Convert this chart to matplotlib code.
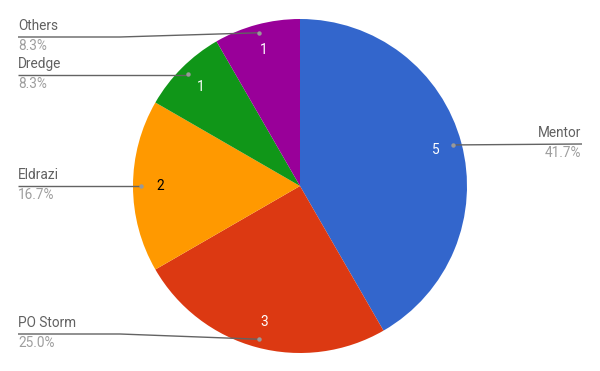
import numpy as np
import matplotlib
matplotlib.use("Agg")
import matplotlib.pyplot as plt

# Deck archetype counts
labels = ["Mentor", "PO Storm", "Eldrazi", "Dredge", "Others"]
counts = [5, 3, 2, 1, 1]
colors = ["#3366CC", "#DC3912", "#FF9900", "#109618", "#990099"]
value_colors = ["white", "white", "black", "white", "white"]

W, H = 600, 371
plt.rcParams["font.family"] = ["Roboto", "DejaVu Sans"]

fig = plt.figure(figsize=(W / 100, H / 100), dpi=100)
ax = fig.add_axes([0, 0, 1, 1])

cx, cy, r = 300, H - 186, 167

wedges, _ = ax.pie(counts, colors=colors, startangle=90, counterclock=False,
                   center=(cx, cy), radius=r, frame=True,
                   wedgeprops=dict(linewidth=0))
ax.set_xlim(0, W)
ax.set_ylim(0, H)
ax.set_aspect("equal")
ax.axis("off")

total = sum(counts)
fs = 9.8
name_color = "#616161"
pct_color = "#9E9E9E"
line_color = "#636363"

# Legend text placement (pixel rows, from the top) for each label block
name_rows = [133, 323, 175, 64, 26]
side = ["right", "left", "left", "left", "left"]

for w, n, lab, vc, row, sd in zip(wedges, counts, labels, value_colors, name_rows, side):
    mid = np.deg2rad((w.theta1 + w.theta2) / 2)
    # value inside slice
    vx, vy = cx + 0.84 * r * np.cos(mid), cy + 0.84 * r * np.sin(mid)
    ax.text(vx, vy, str(n), color=vc, fontsize=fs, ha="center", va="center")
    # leader dot
    dx, dy = cx + 0.95 * r * np.cos(mid), cy + 0.95 * r * np.sin(mid)
    ly = H - (row + 11)
    if sd == "right":
        xs = [dx, 582]
        ys = [dy, ly]
        tx, ha = 581, "right"
    else:
        knee = 120 if abs(dy - ly) > 2 else dx
        xs = [18, knee, dx]
        ys = [ly, ly, dy]
        tx, ha = 18, "left"
    ax.plot(xs, ys, color=line_color, lw=1, solid_capstyle="butt")
    ax.plot(dx, dy, "o", color="#999999", ms=3.2, mec="none")
    ax.text(tx, H - row, lab, color=name_color, fontsize=fs, ha=ha, va="center")
    ax.text(tx, H - (row + 20), f"{100 * n / total:.1f}%", color=pct_color,
            fontsize=fs, ha=ha, va="center")

fig.savefig("out.png", dpi=100)
